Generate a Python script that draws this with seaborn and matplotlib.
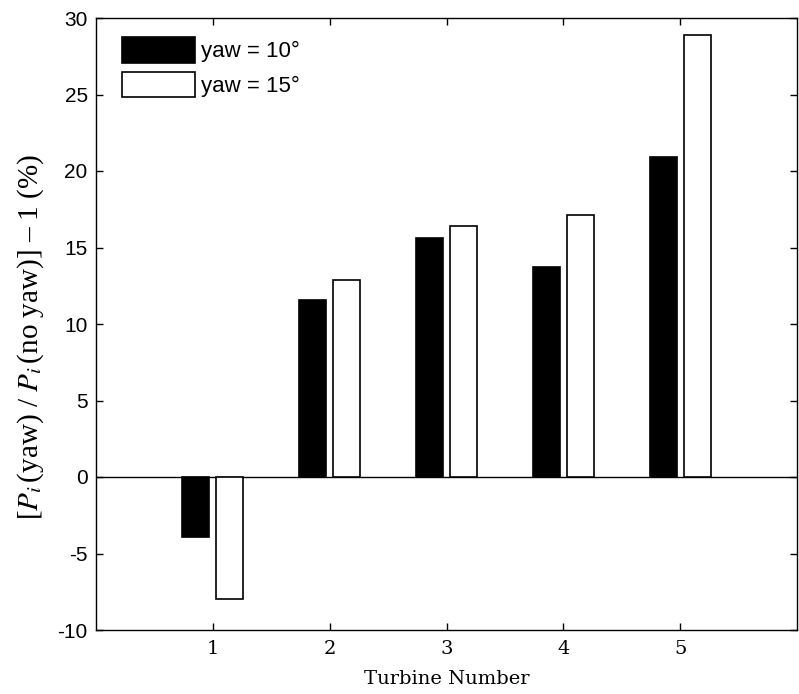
import matplotlib
matplotlib.use("Agg")
import matplotlib.pyplot as plt
import seaborn as sns
import pandas as pd

turbines = [1, 2, 3, 4, 5]
yaw10 = [-3.9, 11.6, 15.6, 13.7, 20.9]
yaw15 = [-8.0, 12.9, 16.4, 17.1, 28.9]
series_labels = ["yaw = 10°", "yaw = 15°"]
yticks = [-10, -5, 0, 5, 10, 15, 20, 25, 30]

df = pd.DataFrame({
    "turbine": turbines * 2,
    "value": yaw10 + yaw15,
    "yaw": [series_labels[0]] * 5 + [series_labels[1]] * 5,
})

plt.rcParams["mathtext.fontset"] = "stix"

fig = plt.figure(figsize=(7.99, 6.94), dpi=100)
ax = fig.add_axes([96 / 799, 64 / 694, 701 / 799, 612 / 694])

sns.barplot(data=df, x="turbine", y="value", hue="yaw",
            hue_order=series_labels, palette=["black", "white"],
            edgecolor="black", linewidth=1.2, width=0.58, gap=0.2,
            saturation=1, ax=ax)

ax.axhline(0, color="black", lw=1.0, zorder=0.5)
ax.set_xlim(-1, 5)
ax.set_ylim(-10, 30)
ax.set_yticks(yticks)
ax.set_yticklabels([str(t) for t in yticks], fontfamily="Liberation Sans", fontsize=15)
for lab in ax.get_xticklabels():
    lab.set_fontfamily("DejaVu Serif")
    lab.set_fontsize(14)

ax.tick_params(direction="in", length=5, width=1, top=True, right=True, colors="black")
ax.tick_params(axis="x", pad=7)
ax.tick_params(axis="y", pad=6)
for s in ax.spines.values():
    s.set_linewidth(1)
    s.set_color("black")

ax.set_xlabel("Turbine Number", fontfamily="DejaVu Serif", fontsize=14, labelpad=9)
ax.set_ylabel(r"[$P_i\,$(yaw) / $P_i\,$(no yaw)] – 1 (%)",
              fontfamily="Liberation Serif", fontsize=21)
ax.yaxis.set_label_coords(-0.071, (630 - 337) / 612)

handles, labels = ax.get_legend_handles_labels()
ax.legend(handles, labels, loc="upper left",
          bbox_to_anchor=(26 / 701, 1 - 19 / 612),
          frameon=False, borderaxespad=0, borderpad=0,
          prop={"family": "Liberation Sans", "size": 16},
          handlelength=3.29, handleheight=1.4, labelspacing=0.4,
          handletextpad=0.27)

fig.savefig("out.png", dpi=100)
